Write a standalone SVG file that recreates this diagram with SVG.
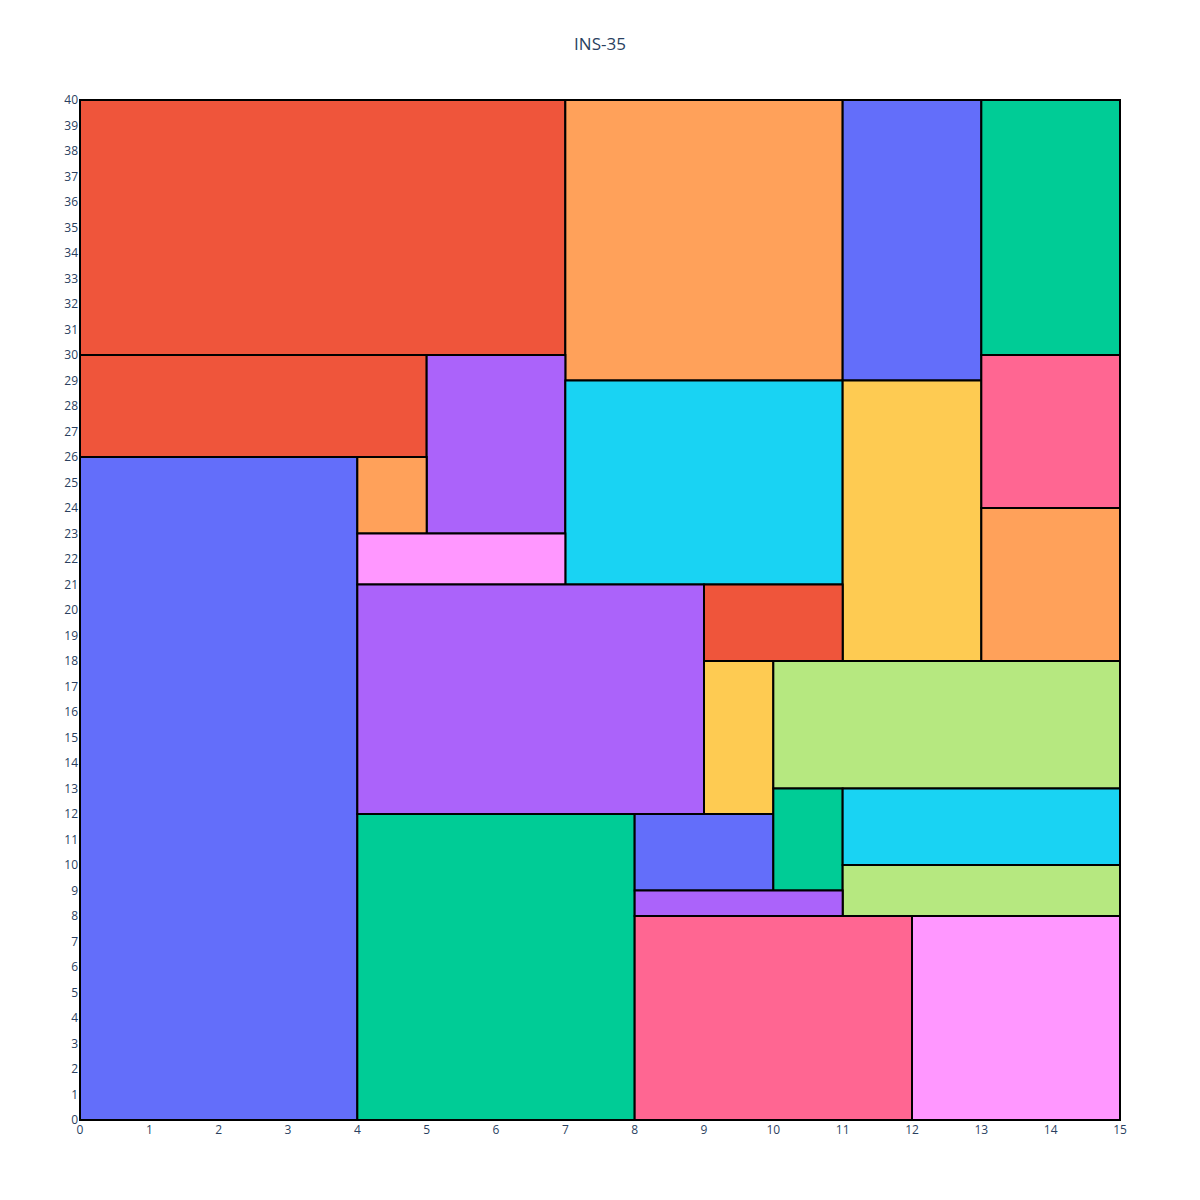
<svg xmlns="http://www.w3.org/2000/svg" width="1200" height="1200" viewBox="0 0 1200 1200">
<style>
.r{stroke:#000;stroke-width:2}
.b{fill:#636efa}.rd{fill:#ef553b}.g{fill:#00cc96}.p{fill:#ab63fa}.o{fill:#ffa15a}.c{fill:#19d3f3}.ro{fill:#ff6692}.lg{fill:#b6e880}.pk{fill:#ff97ff}.y{fill:#fecb52}
.t{font-family:"Open Sans","Liberation Sans",sans-serif;font-size:12px;fill:#2a3f5f}
.yl{text-anchor:end}
.xl{text-anchor:middle}
</style>
<rect width="1200" height="1200" fill="#fff"/>
<text x="600" y="50" text-anchor="middle" style="font-family:'Open Sans','Liberation Sans',sans-serif;font-size:17px;fill:#2a3f5f">INS-35</text>
<g id="nodes">
<g id="n1"><rect class="r rd" x="80" y="100" width="485.33" height="255"/></g>
<g id="n2"><rect class="r o" x="565.33" y="100" width="277.33" height="280.5"/></g>
<g id="n3"><rect class="r b" x="842.67" y="100" width="138.67" height="280.5"/></g>
<g id="n4"><rect class="r g" x="981.33" y="100" width="138.67" height="255"/></g>
<g id="n5"><rect class="r rd" x="80" y="355" width="346.67" height="102"/></g>
<g id="n6"><rect class="r p" x="426.67" y="355" width="138.67" height="178.5"/></g>
<g id="n7"><rect class="r c" x="565.33" y="380.5" width="277.33" height="204"/></g>
<g id="n8"><rect class="r y" x="842.67" y="380.5" width="138.67" height="280.5"/></g>
<g id="n9"><rect class="r ro" x="981.33" y="355" width="138.67" height="153"/></g>
<g id="n10"><rect class="r o" x="981.33" y="508" width="138.67" height="153"/></g>
<g id="n11"><rect class="r b" x="80" y="457" width="277.33" height="663"/></g>
<g id="n12"><rect class="r o" x="357.33" y="457" width="69.33" height="76.5"/></g>
<g id="n13"><rect class="r pk" x="357.33" y="533.5" width="208" height="51"/></g>
<g id="n14"><rect class="r p" x="357.33" y="584.5" width="346.67" height="229.5"/></g>
<g id="n15"><rect class="r rd" x="704" y="584.5" width="138.67" height="76.5"/></g>
<g id="n16"><rect class="r y" x="704" y="661" width="69.33" height="153"/></g>
<g id="n17"><rect class="r lg" x="773.33" y="661" width="346.67" height="127.5"/></g>
<g id="n18"><rect class="r g" x="357.33" y="814" width="277.33" height="306"/></g>
<g id="n19"><rect class="r b" x="634.67" y="814" width="138.67" height="76.5"/></g>
<g id="n20"><rect class="r g" x="773.33" y="788.5" width="69.33" height="102"/></g>
<g id="n21"><rect class="r c" x="842.67" y="788.5" width="277.33" height="76.5"/></g>
<g id="n22"><rect class="r lg" x="842.67" y="865" width="277.33" height="51"/></g>
<g id="n23"><rect class="r p" x="634.67" y="890.5" width="208" height="25.5"/></g>
<g id="n24"><rect class="r ro" x="634.67" y="916" width="277.33" height="204"/></g>
<g id="n25"><rect class="r pk" x="912" y="916" width="208" height="204"/></g>
</g>
<g id="connectors"></g>
<g id="yaxis" class="t yl">
<text x="78" y="1124">0</text>
<text x="78" y="1098.7">1</text>
<text x="78" y="1073.2">2</text>
<text x="78" y="1047.7">3</text>
<text x="78" y="1022.2">4</text>
<text x="78" y="996.7">5</text>
<text x="78" y="971.2">6</text>
<text x="78" y="945.7">7</text>
<text x="78" y="920.2">8</text>
<text x="78" y="894.7">9</text>
<text x="78" y="869.2">10</text>
<text x="78" y="843.7">11</text>
<text x="78" y="818.2">12</text>
<text x="78" y="792.7">13</text>
<text x="78" y="767.2">14</text>
<text x="78" y="741.7">15</text>
<text x="78" y="716.2">16</text>
<text x="78" y="690.7">17</text>
<text x="78" y="665.2">18</text>
<text x="78" y="639.7">19</text>
<text x="78" y="614.2">20</text>
<text x="78" y="588.7">21</text>
<text x="78" y="563.2">22</text>
<text x="78" y="537.7">23</text>
<text x="78" y="512.2">24</text>
<text x="78" y="486.7">25</text>
<text x="78" y="461.2">26</text>
<text x="78" y="435.7">27</text>
<text x="78" y="410.2">28</text>
<text x="78" y="384.7">29</text>
<text x="78" y="359.2">30</text>
<text x="78" y="333.7">31</text>
<text x="78" y="308.2">32</text>
<text x="78" y="282.7">33</text>
<text x="78" y="257.2">34</text>
<text x="78" y="231.7">35</text>
<text x="78" y="206.2">36</text>
<text x="78" y="180.7">37</text>
<text x="78" y="155.2">38</text>
<text x="78" y="129.7">39</text>
<text x="78" y="104.2">40</text>
</g>
<g id="xaxis" class="t xl">
<text x="80" y="1134">0</text>
<text x="149.33" y="1134">1</text>
<text x="218.67" y="1134">2</text>
<text x="288" y="1134">3</text>
<text x="357.33" y="1134">4</text>
<text x="426.67" y="1134">5</text>
<text x="496" y="1134">6</text>
<text x="565.33" y="1134">7</text>
<text x="634.67" y="1134">8</text>
<text x="704" y="1134">9</text>
<text x="773.33" y="1134">10</text>
<text x="842.67" y="1134">11</text>
<text x="912" y="1134">12</text>
<text x="981.33" y="1134">13</text>
<text x="1050.67" y="1134">14</text>
<text x="1120" y="1134">15</text>
</g>
</svg>
